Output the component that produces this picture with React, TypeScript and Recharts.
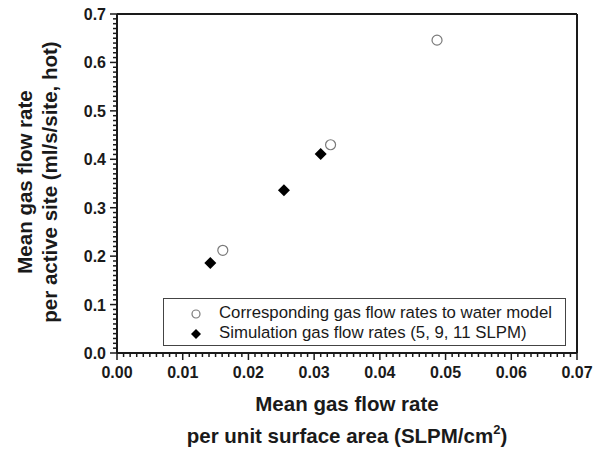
import React from 'react'
import {
  ScatterChart,
  Scatter,
  XAxis,
  YAxis,
  ReferenceLine,
  Legend,
  Label,
} from 'recharts'

// water model equivalents (open circles)
const waterFlowPerArea = [0.0161, 0.0325, 0.0487]
const waterFlowPerSite = [0.212, 0.43, 0.646]

// simulation runs at 5, 9, 11 SLPM (filled diamonds)
const simFlowPerArea = [0.0142, 0.0254, 0.031]
const simFlowPerSite = [0.186, 0.336, 0.411]

const xMajorLabels = ['0.00', '0.01', '0.02', '0.03', '0.04', '0.05', '0.06', '0.07']
const yMajorLabels = ['0.0', '0.1', '0.2', '0.3', '0.4', '0.5', '0.6', '0.7']

const legendNames = [
  'Corresponding gas flow rates to water model',
  'Simulation gas flow rates (5, 9, 11 SLPM)',
]

const waterData = waterFlowPerArea.map((x, i) => ({ x, y: waterFlowPerSite[i] }))
const simData = simFlowPerArea.map((x, i) => ({ x, y: simFlowPerSite[i] }))

// minor ticks: every 0.001 on x, every 0.01 on y
const xTicks: number[] = []
for (let i = 0; i <= 70; i++) xTicks.push(i / 1000)
const yTicks: number[] = []
for (let i = 0; i <= 70; i++) yTicks.push(i / 100)

const FONT = '"Liberation Sans", Arial, sans-serif'
const INK = '#1a1a1a'

const XTick = (props: any) => {
  const { x, y, payload } = props
  const k = Math.round(payload.value * 1000)
  const major = k % 10 === 0
  return (
    <g>
      <line x1={x} x2={x} y1={y} y2={y + (major ? 7 : 4)} stroke={INK} strokeWidth={1.5} />
      {major && (
        <text x={x} y={y + 25} textAnchor="middle" fontFamily={FONT} fontWeight="bold" fontSize={16} fill={INK}>
          {xMajorLabels[k / 10]}
        </text>
      )}
    </g>
  )
}

const YTick = (props: any) => {
  const { x, y, payload } = props
  const k = Math.round(payload.value * 100)
  const major = k % 10 === 0
  return (
    <g>
      <line x1={x} x2={x - (major ? 7 : 4)} y1={y} y2={y} stroke={INK} strokeWidth={1.5} />
      {major && (
        <text x={x - 11} y={y + 6} textAnchor="end" fontFamily={FONT} fontWeight="bold" fontSize={16} fill={INK}>
          {yMajorLabels[k / 10]}
        </text>
      )}
    </g>
  )
}

const OpenCircle = (props: any) => (
  <circle cx={props.cx} cy={props.cy} r={5} fill="#fff" stroke="#7a7a7a" strokeWidth={1.2} />
)

const Diamond = (props: any) => {
  const { cx, cy } = props
  const h = 6
  return <polygon points={`${cx},${cy - h} ${cx + h},${cy} ${cx},${cy + h} ${cx - h},${cy}`} fill="#000" />
}

const LegendBox = () => (
  <div
    style={{
      width: 403,
      height: 48,
      boxSizing: 'border-box',
      border: '1px solid #444',
      background: '#fff',
      position: 'relative',
      fontFamily: FONT,
      fontSize: 16.8,
      color: INK,
    }}
  >
    <svg width={20} height={48} style={{ position: 'absolute', left: 22, top: 0 }}>
      <circle cx={10} cy={15} r={4} fill="#fff" stroke="#7a7a7a" strokeWidth={1.2} />
      <polygon points="10,30 15,35 10,40 5,35" fill="#000" />
    </svg>
    <div style={{ position: 'absolute', left: 55, top: 4, lineHeight: '20px', whiteSpace: 'nowrap' }}>
      {legendNames[0]}
    </div>
    <div style={{ position: 'absolute', left: 55, top: 24, lineHeight: '20px', whiteSpace: 'nowrap' }}>
      {legendNames[1]}
    </div>
  </div>
)

const XTitle = () => (
  <g fontFamily={FONT} fontWeight="bold" fontSize={20.5} fill={INK}>
    <text x={347} y={411} textAnchor="middle">Mean gas flow rate</text>
    <text x={347} y={443} textAnchor="middle">
      per unit surface area (SLPM/cm
      <tspan fontSize={13} dy={-9}>2</tspan>
      <tspan dy={9}>)</tspan>
    </text>
  </g>
)

const YTitle = () => (
  <g fontFamily={FONT} fontWeight="bold" fontSize={20.5} fill={INK}>
    <text x={32} y={182} textAnchor="middle" transform="rotate(-90 32 182)">Mean gas flow rate</text>
    <text x={57} y={182} textAnchor="middle" transform="rotate(-90 57 182)">per active site (ml/s/site, hot)</text>
  </g>
)

export default function App() {
  return (
    <div style={{ position: 'absolute', left: 0, top: 0, width: 600, height: 451, background: '#fff' }}>
      <ScatterChart width={600} height={451} margin={{ top: 14, right: 23, bottom: 0, left: 0 }}>
        <XAxis
          type="number"
          dataKey="x"
          domain={[0, 0.07]}
          ticks={xTicks}
          interval={0}
          tick={<XTick />}
          tickLine={false}
          tickSize={0}
          tickMargin={0}
          height={98}
          axisLine={{ stroke: INK, strokeWidth: 2 }}
        >
          <Label content={<XTitle />} />
        </XAxis>
        <YAxis
          type="number"
          dataKey="y"
          domain={[0, 0.7]}
          ticks={yTicks}
          interval={0}
          tick={<YTick />}
          tickLine={false}
          tickSize={0}
          tickMargin={0}
          width={117}
          axisLine={{ stroke: INK, strokeWidth: 2 }}
        >
          <Label content={<YTitle />} />
        </YAxis>
        <ReferenceLine y={0.7} stroke={INK} strokeWidth={2} />
        <ReferenceLine x={0.07} stroke={INK} strokeWidth={2} />
        <Legend
          layout="vertical"
          align="center"
          verticalAlign="middle"
          content={<LegendBox />}
          wrapperStyle={{ left: 163, top: 298, width: 403, height: 48 }}
        />
        <Scatter name={legendNames[0]} data={waterData} shape={<OpenCircle />} isAnimationActive={false} />
        <Scatter name={legendNames[1]} data={simData} shape={<Diamond />} isAnimationActive={false} />
      </ScatterChart>
    </div>
  )
}
